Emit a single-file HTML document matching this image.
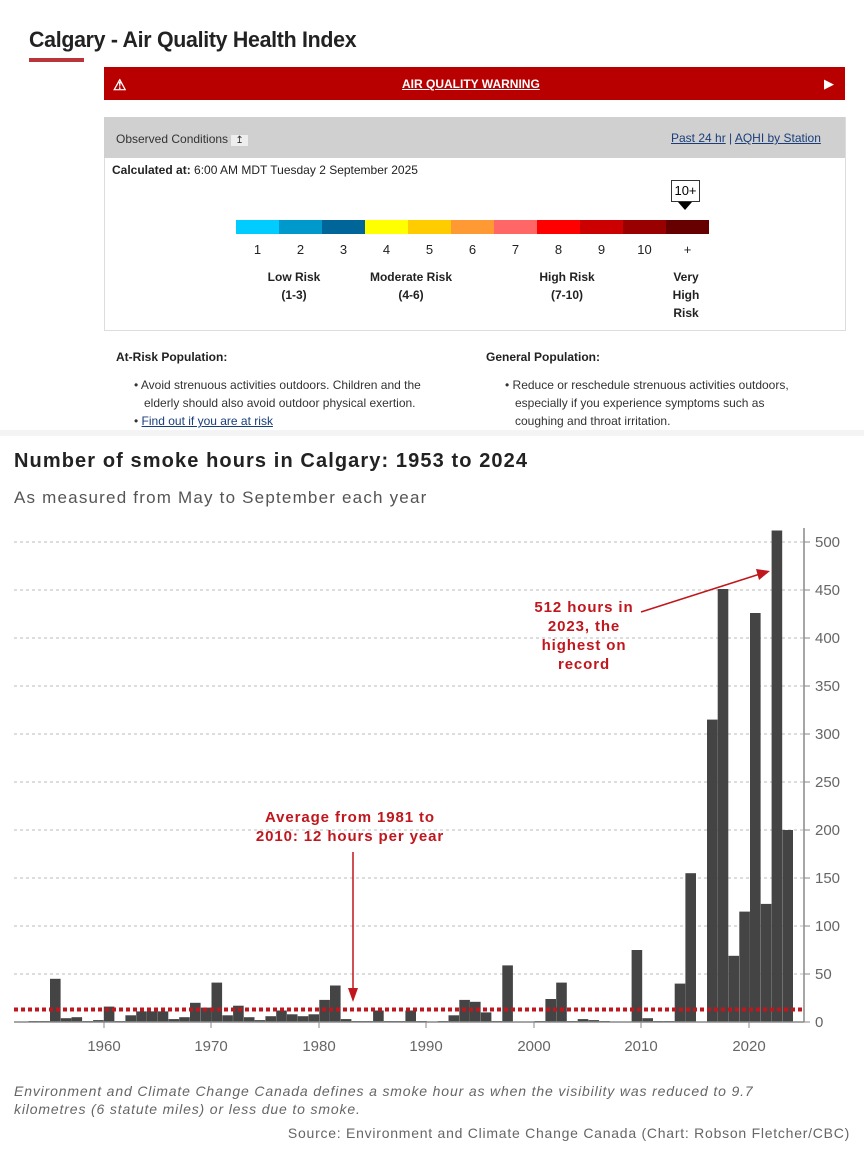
<!DOCTYPE html>
<html><head><meta charset="utf-8"><style>
body{margin:0;width:864px;height:1152px;background:#fff;font-family:"Liberation Sans",sans-serif;position:relative;overflow:hidden}
.a{position:absolute;white-space:nowrap}
</style></head><body>
<div class="a" style="left:29px;top:27px;font-size:22px;color:#222;letter-spacing:-0.3px;font-weight:bold;transform:scaleX(0.97);transform-origin:left">Calgary - Air Quality Health Index</div>
<div class="a" style="left:29px;top:58px;width:55px;height:4px;background:#b8363a"></div>
<div class="a" style="left:104px;top:67px;width:741px;height:33px;background:#b90000"></div>
<div class="a" style="left:113px;top:76px;color:#fff;font-size:15px;font-weight:bold">⚠</div>
<div class="a" style="left:402px;top:77px;color:#fff;font-size:12px;font-weight:bold;text-decoration:underline">AIR QUALITY WARNING</div>
<div class="a" style="left:824px;top:76px;color:#fff;font-size:13px">▶</div>
<div class="a" style="left:104px;top:117px;width:740px;height:212px;border:1px solid #ddd;box-sizing:content-box"></div>
<div class="a" style="left:104px;top:117px;width:741px;height:41px;background:#d0d0d0"></div>
<div class="a" style="left:116px;top:132px;font-size:12px;color:#333">Observed Conditions <span style="background:#eee;padding:0 4px;font-size:10px">↥</span></div>
<div class="a" style="left:671px;top:131px;font-size:12px;color:#1a3e7a"><u>Past 24 hr</u> | <u>AQHI by Station</u></div>
<div class="a" style="left:112px;top:163px;font-size:12px;color:#222"><b>Calculated at:</b> 6:00 AM MDT Tuesday 2 September 2025</div>
<div class="a" style="left:671px;top:180px;width:27px;height:20px;border:1px solid #333;font-size:13px;text-align:center;line-height:20px;background:#fff">10+</div>
<div class="a" style="left:678px;top:202px;width:0;height:0;border-left:7px solid transparent;border-right:7px solid transparent;border-top:8px solid #000"></div>
<div class="a" style="left:236px;top:220px;display:flex;height:14px">
<div style="width:43px;background:#00ccff"></div><div style="width:43px;background:#0099cc"></div><div style="width:43px;background:#006699"></div><div style="width:43px;background:#ffff00"></div><div style="width:43px;background:#ffcc00"></div><div style="width:43px;background:#ff9933"></div><div style="width:43px;background:#ff6666"></div><div style="width:43px;background:#ff0000"></div><div style="width:43px;background:#cc0000"></div><div style="width:43px;background:#990000"></div><div style="width:43px;background:#660000"></div></div>
<div class="a" style="left:236px;top:242px;display:flex;font-size:13px;color:#222">
<div style="width:43px;text-align:center">1</div><div style="width:43px;text-align:center">2</div><div style="width:43px;text-align:center">3</div><div style="width:43px;text-align:center">4</div><div style="width:43px;text-align:center">5</div><div style="width:43px;text-align:center">6</div><div style="width:43px;text-align:center">7</div><div style="width:43px;text-align:center">8</div><div style="width:43px;text-align:center">9</div><div style="width:43px;text-align:center">10</div><div style="width:43px;text-align:center">+</div></div>
<div class="a" style="left:254px;top:268px;width:80px;text-align:center;font-size:12px;font-weight:bold;line-height:18px;color:#222">Low Risk<br>(1-3)</div>
<div class="a" style="left:356px;top:268px;width:110px;text-align:center;font-size:12px;font-weight:bold;line-height:18px;color:#222">Moderate Risk<br>(4-6)</div>
<div class="a" style="left:527px;top:268px;width:80px;text-align:center;font-size:12px;font-weight:bold;line-height:18px;color:#222">High Risk<br>(7-10)</div>
<div class="a" style="left:656px;top:268px;width:60px;text-align:center;font-size:12px;font-weight:bold;line-height:18px;color:#222">Very<br>High<br>Risk</div>
<div class="a" style="left:116px;top:350px;font-size:12px;font-weight:bold;color:#222">At-Risk Population:</div>
<div class="a" style="left:486px;top:350px;font-size:12px;font-weight:bold;color:#222">General Population:</div>
<div class="a" style="left:134px;top:376px;font-size:12px;line-height:18px;color:#333">• Avoid strenuous activities outdoors. Children and the<br>&nbsp;&nbsp;&nbsp;elderly should also avoid outdoor physical exertion.<br>• <u style="color:#1a3e7a">Find out if you are at risk</u></div>
<div class="a" style="left:505px;top:376px;font-size:12px;line-height:18px;color:#333">• Reduce or reschedule strenuous activities outdoors,<br>&nbsp;&nbsp;&nbsp;especially if you experience symptoms such as<br>&nbsp;&nbsp;&nbsp;coughing and throat irritation.</div>
<div class="a" style="left:0;top:430px;width:864px;height:6px;background:#f4f4f4"></div>
<div class="a" style="left:14px;top:450px;font-size:20px;font-weight:bold;color:#222;letter-spacing:1.1px">Number of smoke hours in Calgary: 1953 to 2024</div>
<div class="a" style="left:14px;top:488px;font-size:17px;color:#555;letter-spacing:1.2px">As measured from May to September each year</div>
<svg class="a" style="left:0;top:0" width="864" height="1152">
<g stroke="#bbb" stroke-dasharray="3,3" stroke-width="1">
<line x1="14" x2="804" y1="542" y2="542"/><line x1="14" x2="804" y1="590" y2="590"/><line x1="14" x2="804" y1="638" y2="638"/><line x1="14" x2="804" y1="686" y2="686"/><line x1="14" x2="804" y1="734" y2="734"/><line x1="14" x2="804" y1="782" y2="782"/><line x1="14" x2="804" y1="830" y2="830"/><line x1="14" x2="804" y1="878" y2="878"/><line x1="14" x2="804" y1="926" y2="926"/><line x1="14" x2="804" y1="974" y2="974"/>
</g>
<g id="bars" fill="#444"></g>
<line x1="14" x2="804" y1="1009.5" y2="1009.5" stroke="#c0161d" stroke-width="4" stroke-dasharray="4,3"/>
<line x1="14" x2="804" y1="1022" y2="1022" stroke="#888" stroke-width="1.5"/>
<line x1="804" x2="804" y1="528" y2="1022" stroke="#888" stroke-width="1.5"/>
<g stroke="#888"><line x1="804" x2="810" y1="542" y2="542"/><line x1="804" x2="810" y1="590" y2="590"/><line x1="804" x2="810" y1="638" y2="638"/><line x1="804" x2="810" y1="686" y2="686"/><line x1="804" x2="810" y1="734" y2="734"/><line x1="804" x2="810" y1="782" y2="782"/><line x1="804" x2="810" y1="830" y2="830"/><line x1="804" x2="810" y1="878" y2="878"/><line x1="804" x2="810" y1="926" y2="926"/><line x1="804" x2="810" y1="974" y2="974"/><line x1="804" x2="810" y1="1022" y2="1022"/>
<line x1="104" x2="104" y1="1022" y2="1028"/><line x1="211" x2="211" y1="1022" y2="1028"/><line x1="319" x2="319" y1="1022" y2="1028"/><line x1="426" x2="426" y1="1022" y2="1028"/><line x1="534" x2="534" y1="1022" y2="1028"/><line x1="641" x2="641" y1="1022" y2="1028"/><line x1="749" x2="749" y1="1022" y2="1028"/></g>
<g font-family="Liberation Sans,sans-serif" font-size="15" fill="#666">
<text x="815" y="547">500</text><text x="815" y="595">450</text><text x="815" y="643">400</text><text x="815" y="691">350</text><text x="815" y="739">300</text><text x="815" y="787">250</text><text x="815" y="835">200</text><text x="815" y="883">150</text><text x="815" y="931">100</text><text x="815" y="979">50</text><text x="815" y="1027">0</text>
<g text-anchor="middle"><text x="104" y="1051">1960</text><text x="211" y="1051">1970</text><text x="319" y="1051">1980</text><text x="426" y="1051">1990</text><text x="534" y="1051">2000</text><text x="641" y="1051">2010</text><text x="749" y="1051">2020</text></g>
</g>
<g fill="#c0161d" font-family="Liberation Sans,sans-serif" font-size="15" font-weight="bold" text-anchor="middle" letter-spacing="0.9">
<text x="584" y="612">512 hours in</text><text x="584" y="631">2023, the</text><text x="584" y="650">highest on</text><text x="584" y="669">record</text>
<text x="350" y="822">Average from 1981 to</text><text x="350" y="841">2010: 12 hours per year</text>
</g>
<line x1="641" y1="612" x2="760" y2="574" stroke="#c0161d" stroke-width="1.5"/>
<polygon points="770,571 756,569 759,580" fill="#c0161d"/>
<line x1="353" y1="852" x2="353" y2="990" stroke="#c0161d" stroke-width="1.5"/>
<polygon points="353,1002 348,988 358,988" fill="#c0161d"/>
</svg>
<div class="a" style="left:14px;top:1082px;font-size:14px;font-style:italic;color:#666;line-height:18px;letter-spacing:0.85px">Environment and Climate Change Canada defines a smoke hour as when the visibility was reduced to 9.7<br>kilometres (6 statute miles) or less due to smoke.</div>
<div class="a" style="right:14px;top:1125px;font-size:14px;color:#666;letter-spacing:0.75px">Source: Environment and Climate Change Canada (Chart: Robson Fletcher/CBC)</div>
<script>
var d=[1,1,45,4,5,1,2,16,1,7,11,11,11,3,5,20,15,41,7,17,5,2,6,12,8,6,8,23,38,3,1,1,12,1,1,12,1,0,1,7,23,21,10,1,59,0,0,1,24,41,1,3,2,1,0,0,75,4,1,1,40,155,0,315,451,69,115,426,123,512,200];
var g=document.getElementById('bars'),s='';
for(var i=0;i<d.length;i++){var x=50+(i-2)*10.77,h=d[i]*0.96;if(h>0)s+='<rect x="'+x.toFixed(1)+'" y="'+(1022-h).toFixed(1)+'" width="10.6" height="'+h.toFixed(1)+'"/>';}
g.innerHTML=s;
</script>
</body></html>
